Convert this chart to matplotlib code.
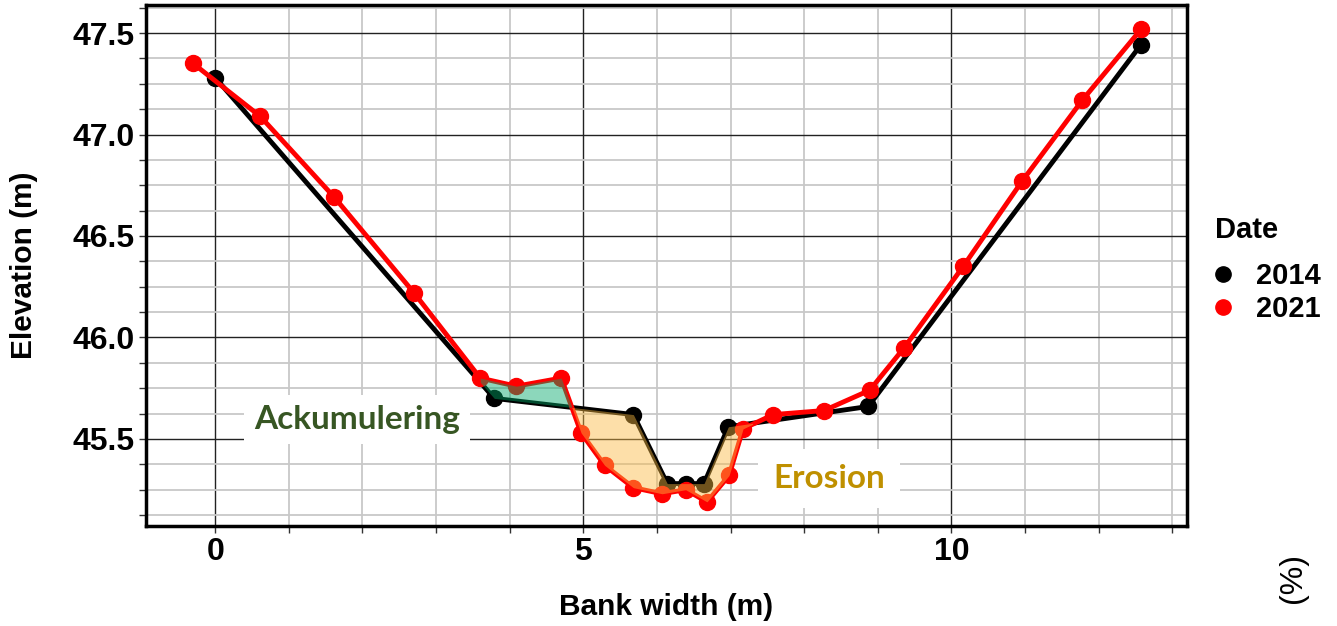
import matplotlib.pyplot as plt
import numpy as np
from matplotlib.lines import Line2D

# survey 2014 (black)
x_2014 = [0.0, 3.79, 5.68, 6.14, 6.40, 6.64, 6.97, 8.87, 12.57]
y_2014 = [47.28, 45.70, 45.62, 45.28, 45.28, 45.28, 45.56, 45.66, 47.44]

# survey 2021 (red)
x_2021 = [-0.30, 0.61, 1.62, 2.70, 3.60, 4.09, 4.70, 4.97, 5.29, 5.68, 6.07,
          6.39, 6.68, 6.98, 7.17, 7.58, 8.27, 8.89, 9.36, 10.16, 10.96, 11.78, 12.58]
y_2021 = [47.35, 47.09, 46.69, 46.22, 45.80, 45.76, 45.80, 45.53, 45.37, 45.26, 45.23,
          45.25, 45.19, 45.32, 45.55, 45.62, 45.64, 45.74, 45.95, 46.35, 46.77, 47.17, 47.52]

years = ['2014', '2021']

fig = plt.figure(figsize=(13.37, 6.26), dpi=100)
ax = fig.add_axes([0.1092, 0.1597, 0.7786, 0.8323])

ax.plot(x_2014, y_2014, color='black', lw=3.5, marker='o', ms=11.5, zorder=3)
ax.plot(x_2021, y_2021, color='#ff0000', lw=3.5, marker='o', ms=11.5, zorder=4)

# filled difference between the profiles (semi-transparent, on top)
xf = np.linspace(3.6, 7.3, 600)
b = np.interp(xf, x_2014, y_2014)
r = np.interp(xf, x_2021, y_2021)
ax.fill_between(xf, b, r, where=r >= b, interpolate=True, color='#00a868', alpha=0.45, lw=0, zorder=5)
ax.fill_between(xf, b, r, where=r < b, interpolate=True, color='#fbba42', alpha=0.45, lw=0, zorder=5)

ax.set_xlim(-0.94, 13.2)
ax.set_ylim(45.071, 47.638)
ax.set_xticks([0, 5, 10])
ax.set_xticks(np.arange(0, 14, 1), minor=True)
ax.set_yticks([45.5, 46.0, 46.5, 47.0, 47.5])
ax.set_yticks(np.arange(45.125, 47.63, 0.125), minor=True)
ax.set_yticklabels(['45.5', '46.0', '46.5', '47.0', '47.5'])

ax.grid(which='minor', color='#c8c8c8', lw=1.3, zorder=0)
ax.grid(which='major', color='#222222', lw=1.0, zorder=1)
ax.set_axisbelow(True)

for s in ax.spines.values():
    s.set_linewidth(2.5)
    s.set_color('black')

ax.tick_params(which='both', direction='out', length=5, width=1, color='#333333')
ax.tick_params(which='major', labelsize=23, pad=3)
for lab in ax.get_xticklabels() + ax.get_yticklabels():
    lab.set_fontweight('bold')
    lab.set_family('Liberation Sans')

ax.set_xlabel('Bank width (m)', fontsize=21.5, fontweight='bold', family='Liberation Sans')
ax.set_ylabel('Elevation (m)', fontsize=21.5, fontweight='bold', family='Liberation Sans')
ax.xaxis.set_label_coords(0.5, -0.128)
ax.yaxis.set_label_coords(-0.104, 0.5)

# annotations
ax.text(1.93, 45.594, 'Ackumulering', color='#375623', fontsize=24, fontweight='bold',
        family='Lato', ha='center', va='center', zorder=6,
        bbox=dict(boxstyle='square,pad=0.3', fc='white', ec='none'))
ax.text(8.34, 45.303, 'Erosion', color='#bf9000', fontsize=24, fontweight='bold',
        family='Lato', ha='center', va='center', zorder=6,
        bbox=dict(boxstyle='square,pad=0.45', fc='white', ec='none'))

# legend
fig.text(1215 / 1337, 1 - 230 / 626, 'Date', fontsize=21, fontweight='bold',
         family='Liberation Sans', ha='left', va='center')
handles = [Line2D([], [], color=c, marker='o', ls='none', ms=11) for c in ['black', '#ff0000']]
fig.legend(handles, years, loc='upper left', bbox_to_anchor=(1208 / 1337, 1 - 262 / 626),
           frameon=False, borderpad=0, borderaxespad=0, handletextpad=0.65,
           labelspacing=0.17, handlelength=1.0,
           prop=dict(family='Liberation Sans', weight='bold', size=21))

fig.text(0.967, 0.0767, '(%)', rotation=90, fontsize=23, family='Liberation Sans',
         ha='center', va='center')

fig.savefig('out.png', dpi=100)
